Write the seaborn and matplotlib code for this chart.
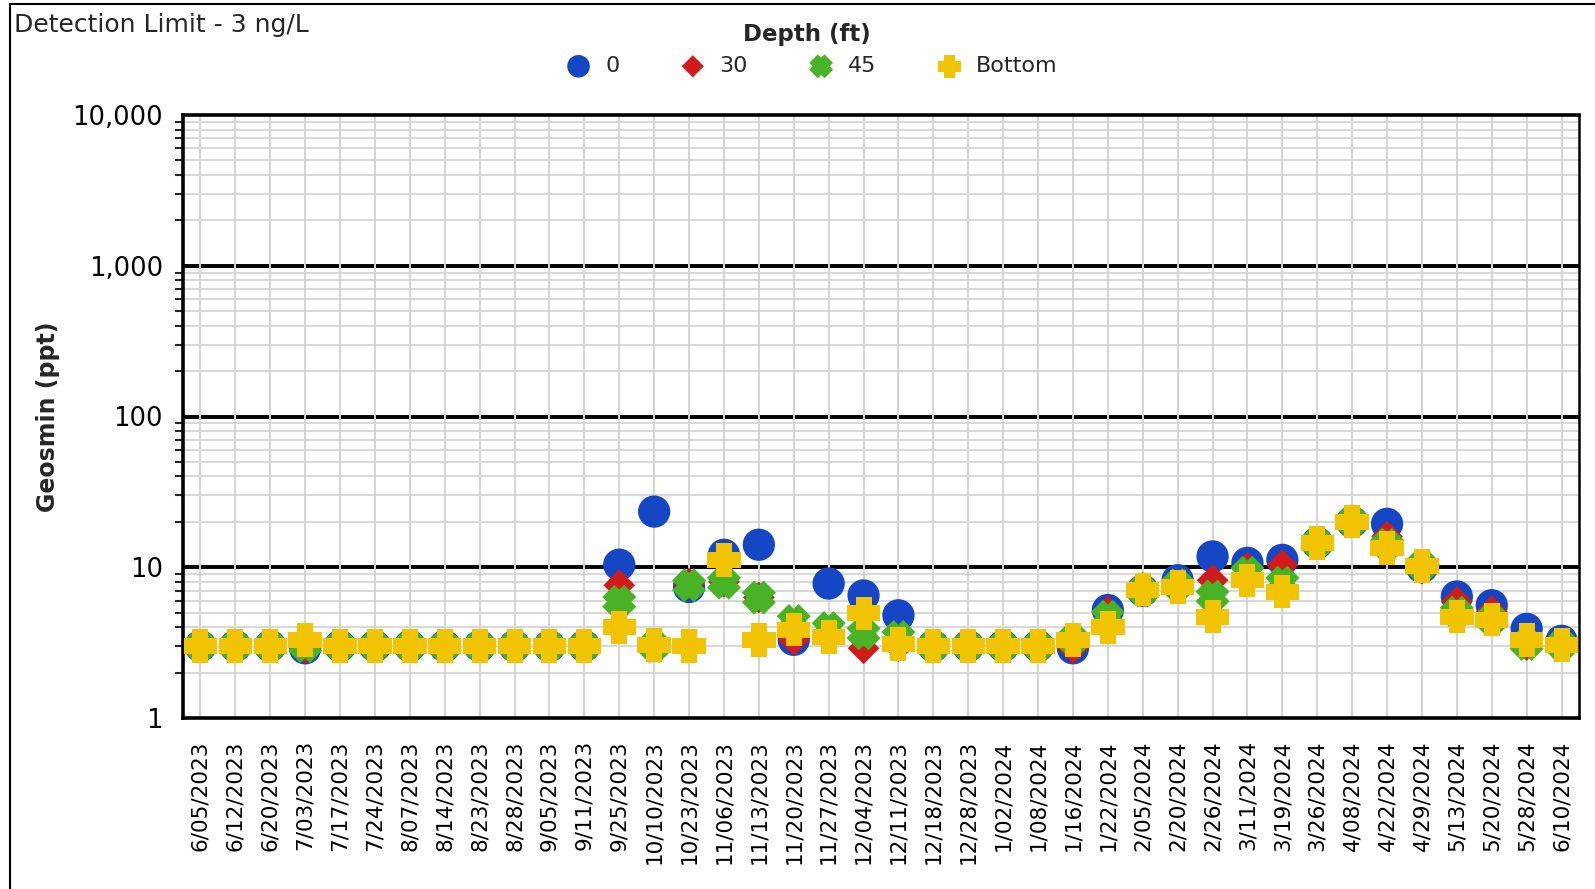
import numpy as np
import pandas as pd
import seaborn as sns
import matplotlib.pyplot as plt
from matplotlib.patches import Rectangle
from matplotlib.ticker import FuncFormatter, LogLocator, NullFormatter

# Sampling dates (categorical x axis)
dates = ["6/05/2023", "6/12/2023", "6/20/2023", "7/03/2023", "7/17/2023", "7/24/2023",
         "8/07/2023", "8/14/2023", "8/23/2023", "8/28/2023", "9/05/2023", "9/11/2023",
         "9/25/2023", "10/10/2023", "10/23/2023", "11/06/2023", "11/13/2023", "11/20/2023",
         "11/27/2023", "12/04/2023", "12/11/2023", "12/18/2023", "12/28/2023", "1/02/2024",
         "1/08/2024", "1/16/2024", "1/22/2024", "2/05/2024", "2/20/2024", "2/26/2024",
         "3/11/2024", "3/19/2024", "3/26/2024", "4/08/2024", "4/22/2024", "4/29/2024",
         "5/13/2024", "5/20/2024", "5/28/2024", "6/10/2024"]

# Geosmin (ppt) by depth
depth_0 = [3, 3, 3, 2.9, 3, 3, 3, 3, 3, 3, 3, 3,
           10.4, 23.4, 7.4, 12.1, 14.1, 3.3, 7.8, 6.5, 4.8, 3, 3, 3,
           3, 2.9, 5.2, 7.0, 8.2, 11.8, 10.7, 11.2, 14.5, 20.0, 19.4, 10.0,
           6.4, 5.6, 3.9, 3.25]
depth_30 = [3, 3, 3, 2.9, 3, 3, 3, 3, 3, 3, 3, 3,
            7.6, 3.0, 7.8, 8.0, 6.3, 3.3, 3.7, 2.9, 3.0, 3, 3, 3,
            3, 2.9, 5.1, 7.3, 7.5, 8.2, 9.9, 10.3, 14.5, 20.0, 16.0, 9.8,
            5.9, 5.1, 3.05, 3.0]
depth_45 = [3, 3, 3, 3, 3, 3, 3, 3, 3, 3, 3, 3,
            5.9, 3.0, 7.6, 7.9, 6.3, 4.4, 3.95, 3.65, 3.45, 3, 3, 3,
            3, 3.3, 4.7, 7.0, 7.6, 6.4, 9.2, 7.9, 14.5, 20.1, 14.1, 10.2,
            5.0, 4.5, 3.1, 3.05]
depth_bottom = [3, 3, 3, 3.3, 3, 3, 3, 3, 3, 3, 3, 3,
                4.0, 3.05, 3.0, 11.2, 3.3, 3.85, 3.45, 4.95, 3.1, 3, 3, 3,
                3, 3.3, 4.0, 7.1, 7.4, 4.7, 8.2, 6.9, 14.5, 20.1, 13.4, 10.2,
                4.7, 4.5, 3.3, 3.05]


def plus_path(a, b=0.5):
    return np.array([(-a, -b), (a, -b), (a, -a), (b, -a), (b, a), (a, a),
                     (a, b), (-a, b), (-a, a), (-b, a), (-b, -a), (-a, -a), (-a, -b)])


plus_marker = plus_path(0.24)
c, s_ = np.cos(np.pi / 4), np.sin(np.pi / 4)
x_marker = plus_path(0.28) @ np.array([[c, s_], [-s_, c]])

sns.set_style("white")
plt.rcParams['font.family'] = ['DejaVu Sans']

fig = plt.figure(figsize=(15.95, 8.89), dpi=100)
ax = fig.add_axes([183 / 1595, 1 - 718 / 889, 1396 / 1595, 603 / 889])

series = [
    ("0", depth_0, "#1546c6", "o", 540),
    ("30", depth_30, "#d21a1a", "D", 260),
    ("45", depth_45, "#48b324", x_marker, 600),
    ("Bottom", depth_bottom, "#f2c300", plus_marker, 580),
]

for i, (lab, vals, col, mk, size) in enumerate(series):
    df = pd.DataFrame({"date": dates, "value": vals})
    sns.scatterplot(data=df, x="date", y="value", color=col, marker=mk, s=size,
                    linewidth=0, edgecolor="none", ax=ax, label=lab, zorder=3 + i)

ax.set_yscale("log")
ax.set_ylim(1, 10000)
ax.set_xlim(-0.5, len(dates) - 0.5)
ax.set_yticks([1, 10, 100, 1000, 10000])
ax.yaxis.set_major_formatter(FuncFormatter(lambda v, p: f"{v:,.0f}"))
ax.yaxis.set_minor_locator(LogLocator(base=10, subs=np.arange(2, 10), numticks=20))
ax.yaxis.set_minor_formatter(NullFormatter())

# gridlines
ax.set_axisbelow(True)
ax.yaxis.grid(True, which="minor", color="#d4d4d4", lw=1.3)
ax.yaxis.grid(False, which="major")
ax.xaxis.grid(True, which="major", color="#d4d4d4", lw=1.4)
for v in [10, 100, 1000]:
    ax.axhline(v, color="black", lw=2.8, zorder=0.3)

for name, sp in ax.spines.items():
    sp.set_visible(True)
    sp.set_color("black")
    sp.set_linewidth(1.8 if name == "right" else 2.6)

ax.tick_params(axis="x", length=12, width=1.8, labelsize=15.5, pad=4, colors="black")
plt.setp(ax.get_xticklabels(), rotation=90)
ax.tick_params(axis="y", which="major", length=11, width=1.8, labelsize=18.5, colors="black")
ax.tick_params(axis="y", which="minor", length=6, width=1.5, left=True)
ax.set_xlabel("")
ax.set_ylabel("Geosmin (ppt)", fontsize=17, fontweight="bold")
ax.yaxis.set_label_coords(-0.088, 0.5)

handles, labels = ax.get_legend_handles_labels()
ax.get_legend().remove()
leg = fig.legend(handles, labels, title="Depth (ft)", ncol=4, loc="upper center",
                 bbox_to_anchor=(0.506, 0.984), frameon=False, fontsize=16,
                 markerscale=0.7, handletextpad=0.2, columnspacing=2.3,
                 title_fontproperties={"weight": "bold", "size": 16.5},
                 borderaxespad=0, labelspacing=0.45)

fig.text(14 / 1595, 1 - 25 / 889, "Detection Limit - 3 ng/L", fontsize=18, va="center", ha="left")

fig.patches.append(Rectangle((10 / 1595, -0.05), 1.2, 1 - 4 / 889 + 0.05,
                             transform=fig.transFigure, fill=False, lw=1.5, ec="black"))

fig.savefig("out.png", dpi=100)
